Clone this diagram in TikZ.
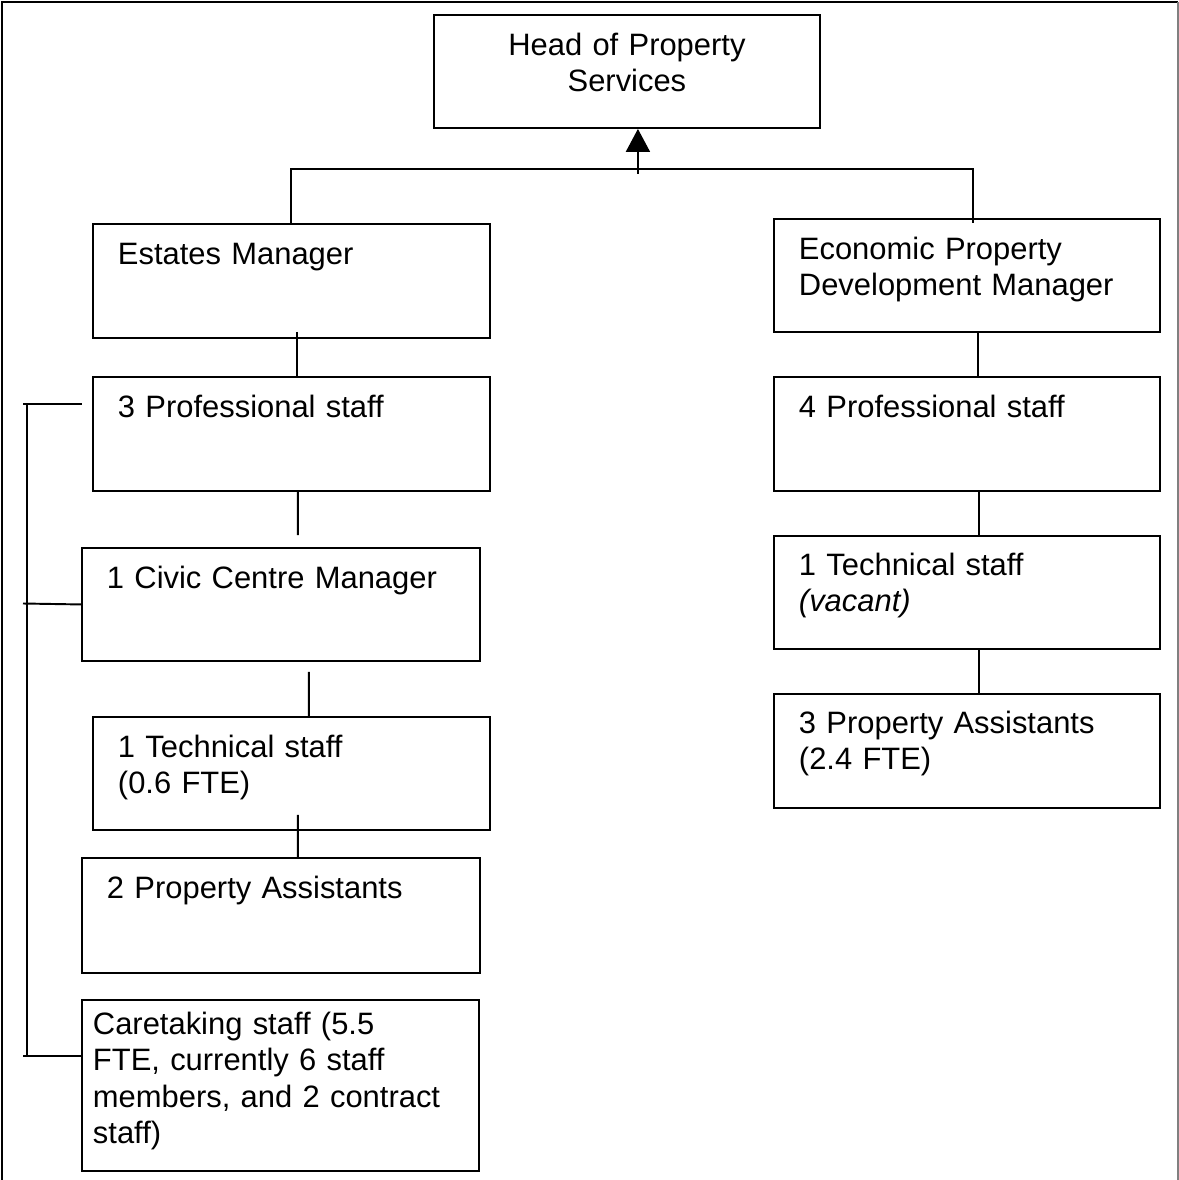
\documentclass[tikz,border=0pt]{standalone}
\usepackage{fontspec}
\setmainfont{Liberation Sans}
\usetikzlibrary{calc,arrows.meta}

\begin{document}
\begin{tikzpicture}[x=0.02cm,y=-0.02cm,
  every node/.style={font=\fontsize{17.6}{20.5}\selectfont},
  unit/.style={draw,line width=1.1pt,anchor=north west,align=left,
    inner xsep=0.5cm,inner ysep=0pt,text height=0.82cm},
  link/.style={line width=1.1pt}]
\useasboundingbox (0,0) rectangle (1179,1180);
\draw[line width=1.2pt] (2,1180) -- (2,2) -- (1178,2);
\draw[gray,line width=0.8pt] (1178,2) -- (1178,1180);

\node[unit,align=center,text width=6.72cm,text depth=1.44cm] (head) at (433,14) {Head of Property\\Services};

\node[unit,text width=6.94cm,text depth=1.46cm] (estates) at (92,223) {Estates Manager};
\node[unit,text width=6.94cm,text depth=1.46cm] (prof3) at (92,376) {3 Professional staff};
\node[unit,text width=6.96cm,text depth=1.44cm] (civic) at (81,547) {1 Civic Centre Manager};
\node[unit,text width=6.94cm,text depth=1.44cm] (tech6) at (92,716) {1 Technical staff\\(0.6 FTE)};
\node[unit,text width=6.96cm,text depth=1.48cm] (pa2) at (81,857) {2 Property Assistants};
\node[unit,inner xsep=0.22cm,text width=7.5cm,text height=0.70cm,text depth=2.72cm] (care) at (81,999)
  {Caretaking staff (5.5\\FTE, currently 6 staff\\members, and 2 contract\\staff)};

\node[unit,text width=6.72cm,text depth=1.44cm] (epdm) at (773,218) {Economic Property\\Development Manager};
\node[unit,text width=6.72cm,text depth=1.46cm] (prof4) at (773,376) {4 Professional staff};
\node[unit,text width=6.72cm,text height=0.80cm,text depth=1.46cm] (techv) at (773,535) {1 Technical staff\\\textit{(vacant)}};
\node[unit,text width=6.72cm,text height=0.80cm,text depth=1.48cm] (pa3) at (773,693) {3 Property Assistants\\(2.4 FTE)};

% top level
\draw[link,-{Triangle[length=0.46cm,width=0.48cm]}] ($(head.south)+(11,45)$) -- ($(head.south)+(11,0)$);
\draw[link] (estates.north) |- ($(head.south)+(11,40)$) -| ($(epdm.north)+(6,5)$);

% left column
\draw[link] ($(estates.south)+(6,-7)$) -- ($(prof3.north)+(6,0)$);
\draw[link] ($(prof3.south)+(6.5,0)$) -- ($(civic.north)+(17,-12)$);
\draw[link] ($(civic.south)+(28,10)$) -- ($(tech6.north)+(17.5,0)$);
\draw[link] ($(tech6.south)+(6.5,-16)$) -- ($(pa2.north)+(17,0)$);

% right column
\draw[link] ($(epdm.south)+(11,0)$) -- ($(prof4.north)+(11,0)$);
\draw[link] ($(prof4.south)+(12,0)$) -- ($(techv.north)+(12,0)$);
\draw[link] ($(techv.south)+(12,0)$) -- ($(pa3.north)+(12,0)$);

% side bracket
\coordinate (bra) at (23,404);
\coordinate (brb) at (23,603.5);
\coordinate (brc) at (23,1056);
\draw[link] (bra) -- ($(prof3.north west)+(-10,28)$);
\draw[link] (brb) -- (civic.west);
\draw[link] (brc) -- ($(care.north west)+(0,57)$);
\draw[link] ($(bra)+(4,0)$) -- ($(brc)+(4,0)$);
\end{tikzpicture}
\end{document}
